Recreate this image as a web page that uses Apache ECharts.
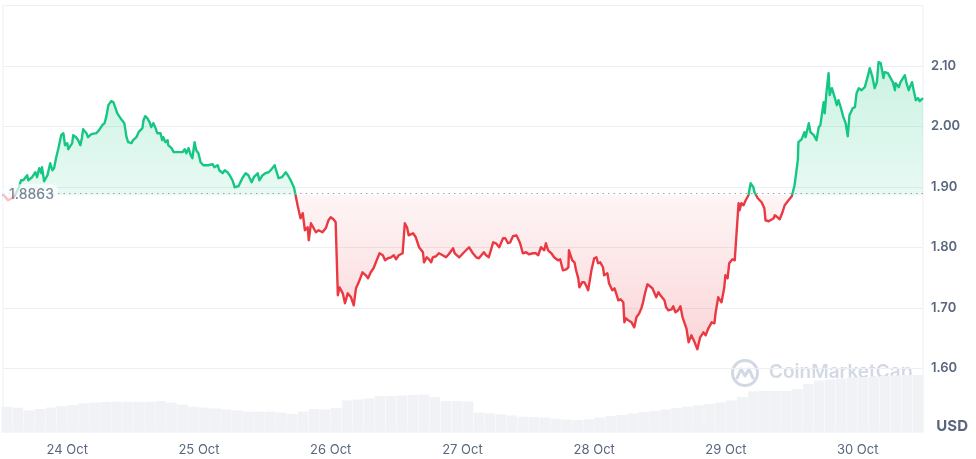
<!DOCTYPE html>
<html>
<head>
<meta charset="utf-8">
<script src="https://cdn.jsdelivr.net/npm/echarts@6/dist/echarts.min.js"></script>
<style>
  html, body { margin: 0; padding: 0; background: #ffffff; }
  #chart { width: 976px; height: 459px; }
</style>
</head>
<body>
<div id="chart"></div>
<script>
// Hours relative to 24 Oct 00:00
const hours = [
  -11.7,-10.8,-9.7,-8.8,-8.4,-8.0,-7.3,-7.1,-6.4,-5.8,-5.5,-5.1,-4.7,-4.6,-4.2,-3.6,-3.1,-2.7,-2.4,-2.0,
  -1.6,-1.1,-0.7,-0.4,0.0,0.2,0.5,0.9,1.1,1.6,2.0,2.4,2.7,2.9,3.5,3.8,4.4,4.7,5.3,5.8,
  6.4,6.8,7.1,7.5,8.0,8.4,8.8,9.1,9.3,9.7,10.0,10.4,10.8,11.1,11.7,12.0,12.6,13.0,13.3,13.7,
  13.9,14.2,14.6,15.0,15.3,15.7,16.1,16.4,16.6,17.0,17.3,17.5,17.9,18.3,18.4,19.0,19.4,19.7,20.1,20.4,
  21.0,21.4,21.7,22.1,22.5,22.8,23.2,23.5,23.9,24.3,24.8,25.0,25.6,25.9,26.5,26.8,27.4,27.7,28.3,28.7,
  29.2,29.6,30.1,30.5,30.8,31.2,31.9,32.5,33.0,33.6,34.0,34.7,35.0,35.6,36.1,36.7,37.2,37.8,38.1,38.5,
  39.1,39.4,39.8,40.2,40.7,41.3,41.6,42.0,42.3,42.5,42.9,43.3,43.8,44.0,44.4,44.9,45.3,45.8,46.5,47.1,
  47.6,48.0,48.5,48.9,49.3,49.6,50.2,50.6,51.1,51.3,51.7,52.2,52.6,53.1,53.8,54.4,54.8,55.3,55.8,56.6,
  56.9,57.5,57.9,58.4,59.0,59.5,59.9,60.4,61.1,61.5,61.9,62.2,63.0,63.5,64.1,64.8,65.0,65.5,65.9,66.3,
  66.6,67.2,67.7,68.4,69.0,69.5,70.3,70.6,71.4,71.7,72.3,73.2,73.9,74.5,75.0,75.9,76.3,76.8,77.6,78.1,
  78.7,79.4,79.8,80.3,80.7,81.2,81.8,82.1,82.5,83.0,83.6,84.1,84.9,85.4,85.8,86.3,86.9,87.2,87.6,88.2,
  88.7,89.4,89.8,90.3,90.9,91.3,91.4,92.0,92.4,92.7,93.1,93.3,93.8,94.2,94.5,94.9,95.5,96.0,96.4,96.7,
  97.1,97.6,97.8,98.4,98.7,99.3,99.7,100.0,100.4,100.8,101.3,101.5,101.8,102.2,102.8,103.3,103.7,104.2,104.6,104.9,
  105.3,105.7,106.0,106.6,107.0,107.3,107.7,108.2,108.8,109.1,109.5,110.1,110.4,110.8,111.3,111.7,112.1,112.4,112.8,113.2,
  113.7,114.3,114.8,115.3,115.9,116.3,116.8,117.4,117.9,118.1,118.6,119.2,119.7,119.9,120.3,120.6,121.2,121.6,121.9,122.3,
  122.5,122.8,123.2,123.6,123.9,124.1,124.5,125.0,125.2,125.8,126.1,126.5,127.0,127.2,127.8,128.1,128.7,128.9,129.4,129.8,
  130.3,130.7,131.0,131.4,132.0,132.3,132.5,133.1,133.2,133.8,134.3,134.5,135.1,135.4,136.0,136.5,136.9,137.2,137.8,138.0,
  138.3,138.7,138.9,139.3,139.8,140.2,140.5,140.9,141.4,141.8,142.2,142.5,143.1,143.5,143.8,144.2,144.7,145.3,145.8,146.2,
  146.7,147.1,147.5,147.8,148.2,148.7,148.9,149.5,149.8,150.4,150.8,150.9,151.5,151.8,152.6,152.9,153.3,153.5,153.9,154.2,
  154.6,155.0,155.3,155.9
];
const prices = [
  1.8879,1.8780,1.8829,1.8995,1.9111,1.9111,1.9194,1.9111,1.9161,1.9243,1.9161,1.9310,1.9227,1.9326,1.9094,1.9194,1.9392,1.9276,1.9310,1.9492,
  1.9641,1.9856,1.9889,1.9690,1.9724,1.9624,1.9657,1.9724,1.9856,1.9823,1.9773,1.9690,1.9823,1.9955,1.9889,1.9823,1.9873,1.9889,1.9889,1.9939,
  2.0022,2.0055,2.0154,2.0353,2.0419,2.0402,2.0303,2.0220,2.0237,2.0137,2.0104,2.0055,1.9823,1.9740,1.9724,1.9773,1.9823,1.9906,1.9889,1.9972,
  2.0104,2.0171,2.0137,2.0071,1.9988,2.0055,1.9972,1.9889,1.9856,1.9889,1.9773,1.9823,1.9740,1.9773,1.9690,1.9641,1.9575,1.9608,1.9575,1.9608,
  1.9575,1.9624,1.9558,1.9641,1.9525,1.9475,1.9740,1.9608,1.9558,1.9409,1.9359,1.9326,1.9359,1.9326,1.9376,1.9326,1.9359,1.9276,1.9227,1.9276,
  1.9243,1.9194,1.9111,1.8995,1.8978,1.9012,1.9144,1.9227,1.9194,1.9078,1.9161,1.9227,1.9111,1.9194,1.9227,1.9243,1.9293,1.9359,1.9260,1.9144,
  1.9161,1.9161,1.9243,1.9194,1.9111,1.8995,1.8863,1.8680,1.8647,1.8482,1.8565,1.8283,1.8333,1.8118,1.8399,1.8316,1.8250,1.8283,1.8250,1.8316,
  1.8449,1.8498,1.8465,1.8416,1.7207,1.7339,1.7240,1.7075,1.7240,1.7257,1.7174,1.7041,1.7323,1.7422,1.7588,1.7538,1.7488,1.7588,1.7654,1.7836,
  1.7902,1.7869,1.7786,1.7820,1.7836,1.7869,1.7803,1.7869,1.7902,1.8399,1.8333,1.8200,1.8233,1.8167,1.8002,1.7919,1.7753,1.7836,1.7803,1.7753,
  1.7836,1.7853,1.7902,1.7869,1.7836,1.7886,1.7985,1.7902,1.7836,1.7836,1.7919,1.8002,1.7902,1.7836,1.7820,1.7919,1.7869,1.7836,1.8084,1.8068,
  1.8002,1.8151,1.8151,1.8068,1.8084,1.8184,1.8200,1.8151,1.8068,1.7902,1.7919,1.7886,1.7902,1.7902,1.7869,1.8002,1.7952,1.8068,1.7952,1.7902,
  1.7836,1.7786,1.7803,1.7621,1.7637,1.7671,1.7952,1.7786,1.7753,1.7621,1.7488,1.7339,1.7422,1.7422,1.7373,1.7290,1.7621,1.7820,1.7836,1.7737,
  1.7753,1.7671,1.7538,1.7571,1.7406,1.7290,1.7323,1.7240,1.7124,1.7141,1.7091,1.6760,1.6826,1.6793,1.6760,1.6677,1.6843,1.6909,1.6992,1.7091,
  1.7257,1.7389,1.7373,1.7323,1.7240,1.7174,1.7257,1.7190,1.7124,1.7008,1.6959,1.6975,1.7025,1.6926,1.6959,1.7025,1.6843,1.6826,1.6661,1.6429,
  1.6545,1.6429,1.6313,1.6512,1.6594,1.6545,1.6661,1.6760,1.6743,1.6909,1.7174,1.7091,1.7339,1.7538,1.7488,1.7737,1.7803,1.7786,1.7753,1.8730,
  1.8614,1.8730,1.8697,1.8780,1.8747,1.8863,1.9061,1.8995,1.8912,1.8813,1.8829,1.8747,1.8647,1.8449,1.8432,1.8465,1.8482,1.8531,1.8498,1.8465,
  1.8581,1.8697,1.8730,1.8780,1.8846,1.8879,1.9028,1.9442,1.9740,1.9790,1.9906,1.9823,2.0055,1.9906,1.9856,1.9773,1.9988,2.0022,2.0402,2.0220,
  2.0551,2.0882,2.0518,2.0634,2.0485,2.0353,2.0435,2.0320,2.0154,2.0055,1.9839,2.0187,2.0303,2.0320,2.0551,2.0634,2.0601,2.0651,2.0816,2.0965,
  2.0816,2.0634,2.0733,2.1065,2.1048,2.0800,2.0899,2.0882,2.0833,2.0733,2.0601,2.0717,2.0651,2.0733,2.0849,2.0717,2.0601,2.0651,2.0733,2.0601,
  2.0435,2.0469,2.0419,2.0469
];
// Volume (millions USD), 2-hour buckets centred on these hours
const volHours = [
  -11,-9,-7,-5,-3,-1,1,3,5,7,9,11,13,15,17,19,21,23,25,27,29,31,33,35,37,39,41,43,45,47,49,51,53,55,57,59,61,63,65,67,69,71,
  73,75,77,79,81,83,85,87,89,91,93,95,97,99,101,103,105,107,109,111,113,115,117,119,121,123,125,127,129,131,133,135,137,139,141,143,145,147,149,151,153,155
];
const volumes = [
  60.6,58.5,52.0,55.5,59.0,62.5,64.9,68.8,70.7,71.9,72.6,72.6,72.6,72.6,74.2,70.7,66.0,60.9,59.0,56.7,54.3,52.0,49.2,49.2,49.2,47.3,43.8,49.6,55.5,54.8,57.8,75.4,
  77.7,80.1,85.5,85.9,87.1,88.3,89.4,83.6,74.2,74.2,73.1,47.3,45.4,43.1,40.3,37.5,36.8,35.6,32.8,30.9,29.7,31.4,35.6,39.1,41.4,45.0,48.5,50.8,54.3,57.8,
  61.3,64.2,67.2,70.7,75.4,83.6,96.5,97.6,97.6,97.6,102.3,114.0,122.2,124.6,126.9,129.7,130.4,131.6,132.8,133.9,135.1,135.1
];
const dayHours = [0, 24, 48, 72, 96, 120, 144];
const dayLabels = ['24 Oct', '25 Oct', '26 Oct', '27 Oct', '28 Oct', '29 Oct', '30 Oct'];
const baseline = 1.8863;
const xMin = -11.7, xMax = 155.9;

const GREEN = '#16c784', RED = '#ea3943', TXT = '#58667e';
const upData = hours.map((h, i) => [h, Math.max(prices[i], baseline)]);
const downData = hours.map((h, i) => [h, Math.min(prices[i], baseline)]);
const lineData = hours.map((h, i) => [h, prices[i]]);
const last = prices[prices.length - 1];
const pMax = Math.max.apply(null, prices), pMin = Math.min.apply(null, prices);
const split = (pMax - baseline) / (pMax - pMin);
const lineColor = new echarts.graphic.LinearGradient(0, 0, 0, 1, [
  { offset: 0, color: GREEN }, { offset: split, color: GREEN },
  { offset: split, color: RED }, { offset: 1, color: RED }]);

const chart = echarts.init(document.getElementById('chart'), null, { renderer: 'canvas' });
chart.setOption({
  animation: false,
  textStyle: { fontFamily: 'Inter, "Noto Sans", sans-serif' },
  grid: [
    { left: 3, right: 53, top: 5.6, bottom: 30.3, show: true, borderColor: '#eceff3', borderWidth: 1 },
    { left: 3, right: 53, top: 5.6, bottom: 26.3 }
  ],
  xAxis: [
    { type: 'value', gridIndex: 0, min: xMin, max: xMax,
      axisLine: { show: false }, axisTick: { show: false }, splitLine: { show: false },
      axisLabel: { customValues: dayHours, color: TXT, fontSize: 13, margin: 15,
        formatter: v => dayLabels[dayHours.indexOf(v)] || '' } },
    { type: 'value', gridIndex: 1, min: xMin, max: xMax, show: false }
  ],
  yAxis: [
    { type: 'value', gridIndex: 0, position: 'right', min: 1.5, max: 2.2, interval: 0.1,
      axisLine: { show: false }, axisTick: { show: false },
      splitLine: { lineStyle: { color: '#eceff3', width: 1 } },
      axisLabel: { color: TXT, fontSize: 13, fontWeight: 600, margin: 8, showMinLabel: false, showMaxLabel: false,
        formatter: v => v.toFixed(2) } },
    { type: 'value', gridIndex: 1, min: 0, max: 1000, show: false }
  ],
  series: [
    { type: 'bar', xAxisIndex: 1, yAxisIndex: 1, data: volHours.map((h, i) => [h, volumes[i]]),
      barWidth: 10.6, itemStyle: { color: '#f0f2f5' }, z: 1, silent: true },
    { type: 'line', data: upData, symbol: 'none', lineStyle: { width: 0 }, z: 2, silent: true,
      areaStyle: { origin: baseline, color: new echarts.graphic.LinearGradient(0, 0, 0, 1, [
        { offset: 0, color: 'rgba(22,199,132,0.32)' }, { offset: 1, color: 'rgba(22,199,132,0.14)' }]) } },
    { type: 'line', data: downData, symbol: 'none', lineStyle: { width: 0 }, z: 2, silent: true,
      areaStyle: { origin: baseline, color: new echarts.graphic.LinearGradient(0, 0, 0, 1, [
        { offset: 0, color: 'rgba(234,57,67,0.07)' }, { offset: 1, color: 'rgba(234,57,67,0.30)' }]) } },
    { type: 'line', data: lineData, symbol: 'none', lineStyle: { width: 2.4, color: lineColor, join: 'round' }, z: 4, silent: true,
      markLine: {
        symbol: 'none', silent: true,
        data: [
          { yAxis: baseline, lineStyle: { color: '#9aa3b5', type: [1.5, 4], width: 1 }, label: { show: false } },
          { yAxis: last, lineStyle: { opacity: 0 },
            label: { show: true, position: 'end', distance: 0, formatter: () => last.toFixed(2),
              backgroundColor: GREEN, color: '#fff', fontSize: 14, fontWeight: 700, lineHeight: 14,
              padding: [8, 6, 8, 6], borderRadius: 4 } }
        ]
      }
    },
    { type: 'scatter', data: [[xMin, baseline]], symbolSize: 0, z: 5, silent: true,
      label: { show: true, position: 'right', distance: 0, formatter: () => baseline.toFixed(4),
        color: TXT, fontSize: 14, fontWeight: 500, backgroundColor: 'rgba(255,255,255,0.85)', padding: [4, 4, 4, 6], borderRadius: 6 } }
  ],
  graphic: [
    { type: 'text', right: 8, top: 419, style: { text: 'USD', fill: TXT, font: '700 15px Inter, sans-serif' } },
    { type: 'group', left: 730, top: 358, silent: true, children: [
      { type: 'circle', shape: { cx: 14, cy: 14, r: 12.5 }, style: { fill: 'none', stroke: '#d3d9e4', lineWidth: 3 } },
      { type: 'polyline', shape: { points: [[6, 19], [10, 10], [14, 17], [18, 10], [22, 19]] }, style: { fill: 'none', stroke: '#d3d9e4', lineWidth: 3, lineJoin: 'round', lineCap: 'round' } },
      { type: 'text', x: 38, y: 4, style: { text: 'CoinMarketCap', fill: '#d3d9e4', font: '600 19px Inter, sans-serif' } }
    ] }
  ]
});
</script>
</body>
</html>
